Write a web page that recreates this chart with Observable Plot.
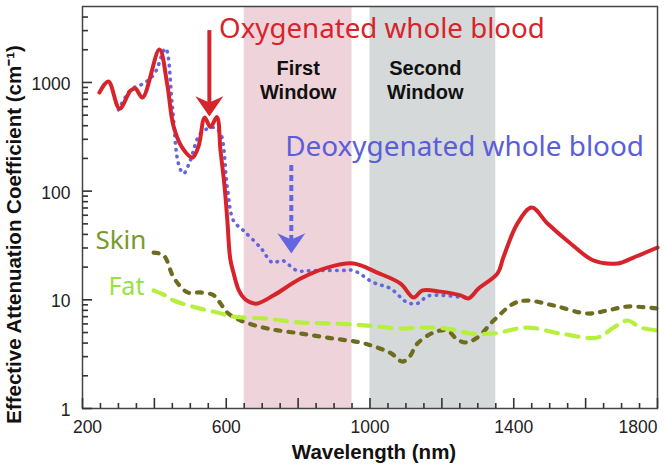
<!DOCTYPE html>
<html>
<head>
<meta charset="utf-8">
<script src="https://cdn.jsdelivr.net/npm/d3@7"></script>
<script src="https://cdn.jsdelivr.net/npm/@observablehq/plot@0.6"></script>
<style>
  html, body { margin: 0; padding: 0; background: #fff; }
  svg { display: block; }
</style>
</head>
<body>
<script>
// ---- Data (wavelength in nm, effective attenuation coefficient in cm^-1) ----
const oxyNm  = [247, 272, 303, 334, 347, 367, 414, 436, 453, 478, 506, 523, 540, 556, 574, 584, 595, 603, 611, 620, 635, 650, 667, 687, 732, 807, 881, 954, 1020, 1085, 1121, 1146, 1196, 1252, 1274, 1302, 1355, 1371, 1410, 1450, 1494, 1558, 1622, 1689, 1733, 1800];
const oxyVal = [807, 1019, 575, 842, 879, 726, 2009, 950, 400, 250, 204, 260, 475, 390, 480, 236, 113, 54, 24, 17.8, 12.2, 10.3, 9.45, 9.25, 11.0, 15.7, 19.8, 21.6, 17.8, 14.1, 10.5, 12.2, 11.9, 11.0, 10.3, 12.7, 17.5, 24.5, 50.3, 70.6, 50.3, 33, 23, 21.6, 24.5, 30.3];

const deoxyNm  = [300, 335, 370, 400, 431, 450, 467, 481, 500, 528, 565, 584, 603, 620, 648, 695, 729, 756, 797, 844, 918, 954, 1010, 1057, 1104, 1132, 1160, 1200, 1250, 1280];
const deoxyVal = [560, 860, 980, 1200, 2050, 600, 179, 145, 192, 339, 385, 339, 108, 53.6, 43.4, 30.3, 22, 23, 18.6, 18.6, 18.6, 18.6, 14.4, 12.7, 9.45, 9.25, 10.8, 11.0, 10.6, 10.3];

const skinNm  = [398, 426, 454, 492, 528, 565, 584, 603, 640, 715, 807, 899, 973, 1020, 1060, 1090, 1110, 1132, 1177, 1215, 1240, 1265, 1299, 1344, 1400, 1437, 1511, 1605, 1660, 1716, 1800];
const skinVal = [27.2, 25.6, 16, 11.7, 11.7, 11.0, 9.25, 7.6, 6.45, 5.44, 4.9, 4.4, 4.05, 3.64, 3.2, 2.7, 3.0, 3.96, 5.0, 5.22, 4.4, 4.05, 4.5, 6.45, 9.25, 9.85, 8.87, 7.48, 7.97, 8.67, 8.32];

const fatNm  = [398, 430, 454, 528, 575, 620, 715, 807, 899, 993, 1085, 1140, 1215, 1280, 1344, 1437, 1530, 1633, 1678, 1716, 1753, 1800];
const fatVal = [12.2, 11.0, 9.85, 8.3, 7.64, 7.0, 6.7, 6.18, 6.05, 5.8, 5.44, 5.56, 5.44, 4.9, 4.9, 5.56, 4.9, 4.5, 5.56, 6.45, 5.56, 5.22];

// Optical windows
const windowNames = ["First\nWindow", "Second\nWindow"];
const windowStart = [650, 1000];
const windowEnd   = [950, 1350];
const windowLabelNm  = [800, 1154];
const windowLabelVal = [1060, 1060];

// Series labels
const seriesLabels   = ["Oxygenated whole blood", "Deoxygenated whole blood", "Skin", "Fat"];
const seriesLabelNm  = [580, 764, 236, 272];
const seriesLabelVal = [3085, 255, 35.1, 13.0];

// Annotation arrows
const arrowNm   = [553, 781];
const arrowFrom = [3000, 172];
const arrowTo   = [486, 26.7];

// Axis ticks
const xTickLabels = [200, 600, 1000, 1400, 1800];
const xMajorTicks = [200, 400, 600, 800, 1000, 1200, 1400, 1600, 1800];
const xMinorTicks = d3.range(250, 1800, 50).filter(d => d % 200 !== 0);
const yTickLabels = [1, 10, 100, 1000];
const yMinorTicks = [1, 10, 100, 1000].flatMap(p => [2,3,4,5,6,7,8,9].map(m => m * p)).filter(d => d < 5000);

// ---- Build tables ----
const zip = (xs, ys) => xs.map((x, i) => ({x, y: ys[i]}));
const oxy = zip(oxyNm, oxyVal);
const deoxy = zip(deoxyNm, deoxyVal);
const skin = zip(skinNm, skinVal);
const fat = zip(fatNm, fatVal);
const windows = windowNames.map((name, i) => ({name, x1: windowStart[i], x2: windowEnd[i], lx: windowLabelNm[i], ly: windowLabelVal[i]}));
const labels = seriesLabels.map((t, i) => ({t, x: seriesLabelNm[i], y: seriesLabelVal[i]}));
const arrows = arrowNm.map((x, i) => ({x, y1: arrowFrom[i], y2: arrowTo[i]}));

const RED = "#d7232a", BLUE = "#6266e2", BLUE_TXT = "#5a5edb";
const SKIN = "#6e6c1f", SKIN_TXT = "#789a2a", FAT = "#b6f03c", FAT_TXT = "#96e23c";
const AXIS = "#333";
const sansFont = "Liberation Sans, Arial, Helvetica, sans-serif";
const labelFont = "Noto Sans, Open Sans, sans-serif";

const FW = 664 - 82 - 7, FH = 467 - 6 - 59;

const arrowHead = {
  draw(ctx, size) {
    const r = Math.sqrt(size / Math.PI);
    ctx.moveTo(0, 0);
    ctx.lineTo(-r, -1.45 * r);
    ctx.lineTo(0, -1.0 * r);
    ctx.lineTo(r, -1.45 * r);
    ctx.closePath();
  }
};

const chart = Plot.plot({
  width: 664,
  height: 467,
  marginLeft: 82,
  marginRight: 7,
  marginTop: 6,
  marginBottom: 59,
  x: {domain: [200, 1800], axis: null},
  y: {type: "log", domain: [1, 5000], axis: null},
  style: {background: "#fff"},
  marks: [
    Plot.rect(windows, {x1: "x1", x2: "x2", fill: (d, i) => i === 0 ? "#efd3da" : "#d6d9d9"}),
    Plot.text(windows, {x: "lx", y: "ly", text: "name", fontFamily: sansFont, fontWeight: "bold", fontSize: 20, lineHeight: 1.2, fill: "#111"}),
    // tissue curves
    Plot.line(skin, {x: "x", y: "y", stroke: SKIN, strokeWidth: 4.2, strokeDasharray: "5,8", strokeLinecap: "round", curve: "catmull-rom"}),
    Plot.line(fat, {x: "x", y: "y", stroke: FAT, strokeWidth: 4.2, strokeDasharray: "12,9", strokeLinecap: "round", curve: "catmull-rom"}),
    // blood curves
    Plot.line(deoxy, {x: "x", y: "y", stroke: BLUE, strokeWidth: 3.6, strokeDasharray: "0.5,6.5", strokeLinecap: "round", curve: "catmull-rom"}),
    Plot.line(oxy, {x: "x", y: "y", stroke: RED, strokeWidth: 4, strokeLinejoin: "round", curve: "catmull-rom"}),
    // arrows
    Plot.ruleX(arrows.slice(0, 1), {x: "x", y1: "y1", y2: "y2", insetBottom: 12, stroke: RED, strokeWidth: 4}),
    Plot.dot(arrows.slice(0, 1), {x: "x", y: "y2", r: 14, symbol: arrowHead, fill: RED, stroke: "none"}),
    Plot.ruleX(arrows.slice(1), {x: "x", y1: "y1", y2: "y2", insetBottom: 12, stroke: BLUE, strokeWidth: 4, strokeDasharray: "6,4"}),
    Plot.dot(arrows.slice(1), {x: "x", y: "y2", r: 14, symbol: arrowHead, fill: BLUE, stroke: "none"}),
    // series labels
    Plot.text(labels, {x: "x", y: "y", text: "t", textAnchor: "start", lineAnchor: "middle", fontFamily: labelFont,
      fontSize: (d, i) => [27.7, 27.9, 26, 25][i],
      fill: (d, i) => [RED, BLUE_TXT, SKIN_TXT, FAT_TXT][i]}),
    // frame + ticks
    Plot.frame({stroke: "#444", strokeWidth: 1.5}),
    Plot.ruleX(xMajorTicks, {x: d => d, insetTop: FH - 10, stroke: AXIS, strokeWidth: 1.6}),
    Plot.ruleX(xMinorTicks, {x: d => d, insetTop: FH - 5, stroke: AXIS, strokeWidth: 1.6}),
    Plot.ruleY(yTickLabels, {y: d => d, insetRight: FW - 10, stroke: AXIS, strokeWidth: 1.6}),
    Plot.ruleY(yMinorTicks, {y: d => d, insetRight: FW - 6, stroke: AXIS, strokeWidth: 1.6}),
    // tick labels
    Plot.text(xTickLabels.filter(d => d !== 1800 && d !== 200), {x: d => d, text: d => String(d), frameAnchor: "bottom", dy: 19,
      textAnchor: "middle", lineAnchor: "middle", fontFamily: sansFont, fontSize: 17.5, fill: "#222"}),
    Plot.text(xTickLabels.filter(d => d === 200), {x: d => d, text: d => String(d), frameAnchor: "bottom", dy: 19, dx: 5, textAnchor: "middle", lineAnchor: "middle", fontFamily: sansFont, fontSize: 17.5, fill: "#222"}),
    Plot.text(xTickLabels.filter(d => d === 1800), {x: d => d, text: d => String(d), frameAnchor: "bottom", dy: 19, textAnchor: "end", lineAnchor: "middle", fontFamily: sansFont, fontSize: 17.5, fill: "#222"}),
    Plot.text(yTickLabels, {y: d => d, text: d => String(d), frameAnchor: "left", dx: -12, dy: 2, textAnchor: "end", lineAnchor: "middle", fontFamily: sansFont, fontSize: 17.5, fill: "#222"}),
    // axis titles
    Plot.text(["Wavelength (nm)"], {text: d => d, frameAnchor: "bottom", dy: 43.5, dx: 4, textAnchor: "middle", lineAnchor: "middle", fontFamily: sansFont, fontWeight: "bold", fontSize: 20.5, fill: "#111"}),
    Plot.text(["Effective Attenuation Coefficient (cm\u207B\u00B9)"], {text: d => d, frameAnchor: "left", rotate: -90, dx: -68.5, dy: 27, textAnchor: "middle", lineAnchor: "middle", fontFamily: sansFont, fontWeight: "bold", fontSize: 20.5, fill: "#111"})
  ]
});
document.body.appendChild(chart);
</script>
</body>
</html>
